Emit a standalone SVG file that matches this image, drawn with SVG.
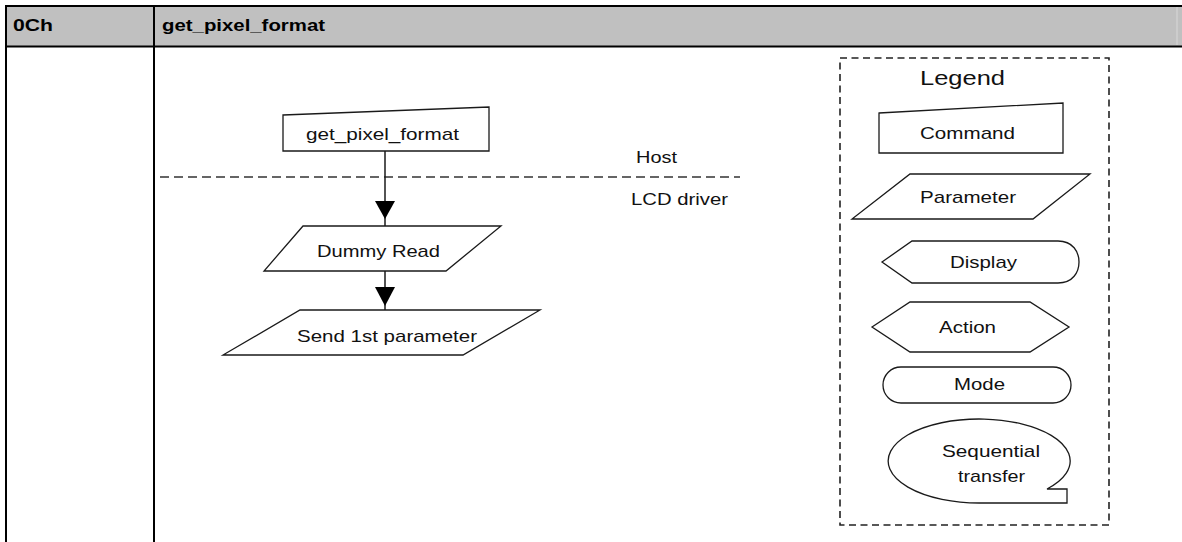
<svg xmlns="http://www.w3.org/2000/svg" width="1182" height="542" viewBox="0 0 1182 542">
<defs>
<style>
text{font-family:"Liberation Sans",Arial,sans-serif;fill:#111;font-size:17px}
.hd{font-weight:bold;fill:#000;font-size:17px}
.shape{fill:#fff;stroke:#1a1a1a;stroke-width:1.3}
.conn{stroke:#1a1a1a;stroke-width:1.5;fill:none}
.dash{stroke:#333;stroke-width:1.5;fill:none;stroke-dasharray:9 5}
.ldash{stroke:#222;stroke-width:1.6;fill:none;stroke-dasharray:7 4.5}
</style>
</defs>
<rect x="0" y="0" width="1182" height="542" fill="#fff"/>
<g id="table">
<rect x="6" y="6" width="1176" height="40" fill="#c0c0c0"/>
<line x1="1177" y1="7" x2="1177" y2="45" stroke="#d8d8d8" stroke-width="1"/>
<line x1="5" y1="6" x2="1182" y2="6" stroke="#000" stroke-width="2"/>
<line x1="5" y1="46.5" x2="1182" y2="46.5" stroke="#000" stroke-width="2.2"/>
<line x1="6" y1="5" x2="6" y2="542" stroke="#000" stroke-width="2"/>
<line x1="154" y1="5" x2="154" y2="542" stroke="#000" stroke-width="2"/>
<text class="hd" x="13" y="30.5" textLength="40" lengthAdjust="spacingAndGlyphs">0Ch</text>
<text class="hd" x="162" y="30.5" textLength="163" lengthAdjust="spacingAndGlyphs">get_pixel_format</text>
</g>
<g id="boundary">
<line class="dash" x1="160" y1="177" x2="740" y2="177"/>
<text x="636" y="163" textLength="41" lengthAdjust="spacingAndGlyphs">Host</text>
<text x="631" y="205" textLength="97" lengthAdjust="spacingAndGlyphs">LCD driver</text>
</g>
<g id="connectors">
<line class="conn" x1="385" y1="151" x2="385" y2="226"/>
<polygon points="375,201 395,201 385,219" fill="#000"/>
<line class="conn" x1="385" y1="271" x2="385" y2="310"/>
<polygon points="375,287 395,287 385,306" fill="#000"/>
</g>
<g id="node-cmd">
<polygon class="shape" points="283,115 489,107 489,151 283,151"/>
<text x="306" y="140" textLength="153" lengthAdjust="spacingAndGlyphs">get_pixel_format</text>
</g>
<g id="node-dummy">
<polygon class="shape" points="303,226 501,226 446,271 264,271"/>
<text x="317" y="257" textLength="123" lengthAdjust="spacingAndGlyphs">Dummy Read</text>
</g>
<g id="node-send">
<polygon class="shape" points="300,310 540,310 463,355 223,355"/>
<text x="297" y="342" textLength="180" lengthAdjust="spacingAndGlyphs">Send 1st parameter</text>
</g>
<g id="legend">
<rect class="ldash" x="840" y="58" width="269" height="467"/>
<text x="920" y="85" style="font-size:20.5px" textLength="85" lengthAdjust="spacingAndGlyphs">Legend</text>
<g id="legend-command">
<polygon class="shape" points="879,113 1063,103 1063,153 879,153"/>
<text x="920" y="139" textLength="95" lengthAdjust="spacingAndGlyphs">Command</text>
</g>
<g id="legend-parameter">
<polygon class="shape" points="910,174 1090,174 1033,219 852,219"/>
<text x="920" y="203" textLength="96" lengthAdjust="spacingAndGlyphs">Parameter</text>
</g>
<g id="legend-display">
<path class="shape" d="M882,262 L912,241 L1058,241 C1073,241 1079,252 1079,262 C1079,272 1073,283 1058,283 L912,283 Z"/>
<text x="950" y="268" textLength="67" lengthAdjust="spacingAndGlyphs">Display</text>
</g>
<g id="legend-action">
<polygon class="shape" points="872,327 910,302 1030,302 1069,327 1030,352 910,352"/>
<text x="939" y="333" textLength="57" lengthAdjust="spacingAndGlyphs">Action</text>
</g>
<g id="legend-mode">
<rect class="shape" x="883" y="367" width="188" height="36" rx="18" ry="18"/>
<text x="954" y="390" textLength="51" lengthAdjust="spacingAndGlyphs">Mode</text>
</g>
<g id="legend-sequential">
<path class="shape" d="M1047,489 L1067,489 L1067,503 L980,503 A91 42 0 1 1 1047,489 Z"/>
<text x="942" y="457" textLength="98" lengthAdjust="spacingAndGlyphs">Sequential</text>
<text x="958" y="482" textLength="67" lengthAdjust="spacingAndGlyphs">transfer</text>
</g>
</g>
</svg>
